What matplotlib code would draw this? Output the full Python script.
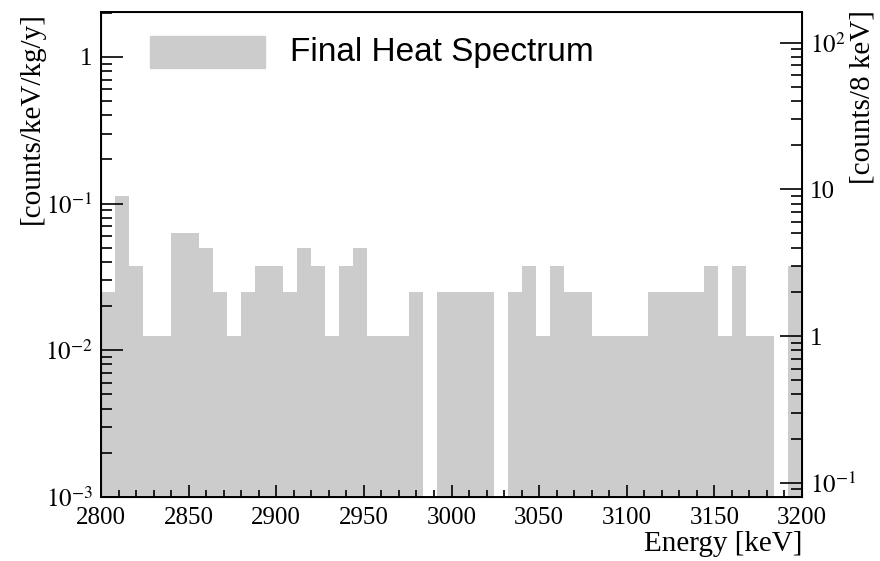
import numpy as np
import matplotlib.pyplot as plt
from matplotlib.patches import Rectangle
from matplotlib.ticker import LogLocator, MultipleLocator, FixedLocator, FixedFormatter, NullFormatter

plt.rcParams.update({
    "font.family": "serif",
    "font.serif": ["Liberation Serif", "DejaVu Serif"],
    "mathtext.fontset": "stix",
    "font.size": 18,
})

# histogram: 8 keV bins from 2800 to 3200 keV, counts per bin
bin_lo = 2800
bin_hi = 3200
bin_w = 8
counts = [2, 9, 3, 1, 1, 5, 5, 4, 2, 1,
          2, 3, 3, 2, 4, 3, 1, 3, 4, 1,
          1, 1, 2, 0, 2, 2, 2, 2, 0, 2,
          3, 1, 3, 2, 2, 1, 1, 1, 1, 2,
          2, 2, 2, 3, 1, 3, 1, 1, 0, 3]
# conversion: 1 count / 8 keV  ->  counts/keV/kg/y
per_count = 0.0125
legend_label = "Final Heat Spectrum"

edges = np.arange(bin_lo, bin_hi + bin_w, bin_w)
rate = np.array(counts) * per_count
fill = "#cccccc"

fig = plt.figure(figsize=(8.8, 5.61), dpi=100)
W, H = 880, 561
ax = fig.add_axes([101 / W, 1 - 497 / H, 701 / W, 485 / H])
ax.stairs(rate, edges, fill=True, color=fill, baseline=1e-5)
ax.set_yscale("log")
ylo, yhi = 1e-3, 2.02
ax.set_ylim(ylo, yhi)
ax.set_xlim(bin_lo, bin_hi)

ax.xaxis.set_major_locator(MultipleLocator(50))
ax.xaxis.set_minor_locator(MultipleLocator(10))
ax.yaxis.set_major_locator(FixedLocator([1e-3, 1e-2, 1e-1, 1]))
ax.yaxis.set_major_formatter(FixedFormatter([r"$10^{-3}$", r"$10^{-2}$", r"$10^{-1}$", "1"]))
ax.yaxis.set_minor_locator(LogLocator(base=10, subs=np.arange(2, 10), numticks=20))
ax.yaxis.set_minor_formatter(NullFormatter())
ax.tick_params(axis="x", which="major", direction="in", length=9, width=1.2, pad=7, top=False)
ax.tick_params(axis="x", which="minor", direction="in", length=5, width=1.2, top=False)
ax.tick_params(axis="y", which="major", direction="in", length=16, width=1.2, pad=6, right=False)
ax.tick_params(axis="y", which="minor", direction="in", length=8, width=1.2, right=False)
for s in ax.spines.values():
    s.set_linewidth(1.4)

ax2 = ax.twinx()
ax2.set_yscale("log")
ax2.set_ylim(ylo / per_count, yhi / per_count)
ax2.yaxis.set_major_locator(FixedLocator([0.1, 1, 10, 100]))
ax2.yaxis.set_major_formatter(FixedFormatter([r"$10^{-1}$", "1", "10", r"$10^{2}$"]))
ax2.yaxis.set_minor_locator(LogLocator(base=10, subs=np.arange(2, 10), numticks=20))
ax2.yaxis.set_minor_formatter(NullFormatter())
ax2.tick_params(axis="y", which="major", direction="in", length=16, width=1.2, pad=6)
ax2.tick_params(axis="y", which="minor", direction="in", length=8, width=1.2)

# legend
ax.add_patch(Rectangle((49 / 701, (497 - 68) / 485), 115 / 701, 32 / 485,
                       transform=ax.transAxes, color=fill, clip_on=False))
ax.text((290 - 101) / 701, (497 - 52) / 485, legend_label, transform=ax.transAxes,
        family="Liberation Sans", fontsize=24, va="center", ha="left")

fig.text(32 / W, 1 - 12 / H, "[counts/keV/kg/y]", rotation=90, ha="center", va="top", fontsize=21)
fig.text(862 / W, 1 - 10 / H, "[counts/8 keV]", rotation=90, ha="center", va="top", fontsize=21)
fig.text(802 / W, 1 - 544 / H, "Energy [keV]", ha="right", va="center", fontsize=21)

fig.savefig("out.png", dpi=100)
